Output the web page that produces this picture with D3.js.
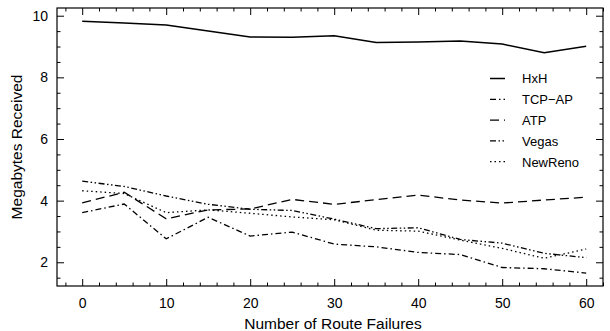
<!DOCTYPE html>
<html><head><meta charset="utf-8">
<script src="https://cdn.jsdelivr.net/npm/d3@7/dist/d3.min.js"></script>
<style>body{margin:0;background:#fff}text{font-family:"Liberation Sans",Arial,sans-serif;fill:#000}</style>
</head><body>
<svg id="c" width="610" height="331"></svg>
<script>
const failures = [0,5,10,15,20,25,30,35,40,45,50,55,60];
const hxh     = [9.82,9.76,9.70,9.50,9.31,9.30,9.35,9.13,9.15,9.18,9.08,8.80,9.01];
const tcpap   = [3.61,3.89,2.76,3.46,2.85,2.98,2.59,2.50,2.32,2.25,1.83,1.79,1.65];
const atp     = [3.93,4.27,3.41,3.70,3.73,4.04,3.88,4.03,4.18,4.02,3.92,4.02,4.11];
const vegas   = [4.63,4.46,4.15,3.88,3.72,3.68,3.40,3.09,3.12,2.74,2.62,2.29,2.15];
const newreno = [4.32,4.23,3.61,3.70,3.59,3.47,3.38,3.04,3.01,2.72,2.45,2.13,2.43];
const seriesNames = ["HxH","TCP\u2212AP","ATP","Vegas","NewReno"];
const xTicks = [0,10,20,30,40,50,60];
const yTicks = [2,4,6,8,10];

const series = [
  {name:"HxH", values:hxh, dash:null, w:1.5},
  {name:"TCP-AP", values:tcpap, dash:"6,3,1.5,3", w:1.3},
  {name:"ATP", values:atp, dash:"9,5", w:1.3},
  {name:"Vegas", values:vegas, dash:"6,2.5,1.5,2.5,1.5,2.5", w:1.3},
  {name:"NewReno", values:newreno, dash:"1.5,3", w:1.3}
];

const L=57, R=603, T=8, B=286;
const svg = d3.select("#c");
const x = d3.scaleLinear().domain([-3,62]).range([L,R]);
const y = d3.scaleLinear().domain([1.23,10.25]).range([B,T]);

const xMinor = d3.range(-2,63,2).filter(v=>v%10!==0);
const yMinor = d3.range(1.5,10.01,0.5).filter(v=>v%2!==0);

function addAxis(axis, tr){
  const g = svg.append("g").attr("transform",tr).call(axis);
  g.select(".domain").remove();
  g.selectAll("line").attr("stroke","#000").attr("stroke-width",1);
  return g;
}
const gb = addAxis(d3.axisBottom(x).tickValues(xTicks).tickSize(-7).tickPadding(12.5).tickFormat(d3.format("d")), `translate(0,${B})`);
gb.selectAll("text").attr("font-size",14).attr("fill","#000");
addAxis(d3.axisBottom(x).tickValues(xMinor).tickSize(-3.5).tickFormat(""), `translate(0,${B})`);
addAxis(d3.axisTop(x).tickValues(xTicks).tickSize(-7).tickFormat(""), `translate(0,${T})`);
addAxis(d3.axisTop(x).tickValues(xMinor).tickSize(-3.5).tickFormat(""), `translate(0,${T})`);
const gl = addAxis(d3.axisLeft(y).tickValues(yTicks).tickSize(-7).tickPadding(9).tickFormat(d3.format("d")), `translate(${L},0)`);
gl.selectAll("text").attr("font-size",14).attr("fill","#000");
addAxis(d3.axisLeft(y).tickValues(yMinor).tickSize(-3.5).tickFormat(""), `translate(${L},0)`);
addAxis(d3.axisRight(y).tickValues(yTicks).tickSize(-7).tickFormat(""), `translate(${R},0)`);
addAxis(d3.axisRight(y).tickValues(yMinor).tickSize(-3.5).tickFormat(""), `translate(${R},0)`);

svg.append("rect").attr("x",L).attr("y",T).attr("width",R-L).attr("height",B-T)
  .attr("fill","none").attr("stroke","#000").attr("stroke-width",1.2);

const line = d3.line().x((d,i)=>x(failures[i])).y(d=>y(d));
series.forEach(s=>{
  svg.append("path").datum(s.values).attr("d",line).attr("fill","none")
    .attr("stroke","#000").attr("stroke-width",s.w)
    .attr("stroke-dasharray",s.dash);
});

const lg = svg.append("g");
series.forEach((s,i)=>{
  const yy = 78.5 + i*20.8;
  lg.append("line").attr("x1",490).attr("x2",505).attr("y1",yy).attr("y2",yy)
    .attr("stroke","#000").attr("stroke-width",s.w).attr("stroke-dasharray",s.dash);
  lg.append("text").attr("x",522).attr("y",yy+4.8).attr("font-size",13).text(seriesNames[i]);
});

svg.append("text").attr("x",(L+R)/2+3).attr("y",328.5).attr("text-anchor","middle")
  .attr("font-size",15.5).text("Number of Route Failures");
svg.append("text").attr("transform",`translate(21.5,${(T+B)/2}) rotate(-90)`)
  .attr("text-anchor","middle").attr("font-size",15.5).text("Megabytes Received");
</script>
</body></html>
